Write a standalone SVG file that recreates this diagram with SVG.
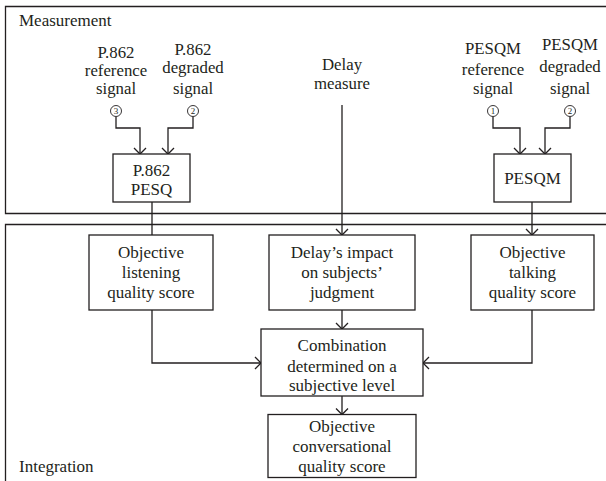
<svg xmlns="http://www.w3.org/2000/svg" width="606" height="481" viewBox="0 0 606 481">
<defs>
<style>
text{font-family:"Liberation Serif","Times New Roman",serif;fill:#231f20;text-anchor:middle}
.lbl{font-size:16.8px}
.box{font-size:17px}
.frm{font-size:17px;text-anchor:start}
.num{font-size:9px}
rect{fill:#fff;stroke:#231f20;stroke-width:1.3}
.fr{fill:none;stroke:#231f20;stroke-width:1.3}
.cn{fill:none;stroke:#231f20;stroke-width:1.3}
circle{fill:#fff;stroke:#231f20;stroke-width:0.9}
</style>
<marker id="ah" markerUnits="userSpaceOnUse" markerWidth="14" markerHeight="14" refX="7" refY="7" orient="auto">
<polyline points="1,1 7,7 1,13" fill="none" stroke="#231f20" stroke-width="1.3"/>
</marker>
</defs>
<g id="frames">
<path class="fr" d="M610,6.5 H5.5 V213.5 H610"/>
<path class="fr" d="M610,224.5 H5.5 V490"/>
<text class="frm" x="19" y="25.5">Measurement</text>
<text class="frm" x="19" y="472">Integration</text>
</g>
<g id="connectors">
<path class="cn" d="M116,116.5 V128 H140 V154" marker-end="url(#ah)"/>
<path class="cn" d="M193,116.5 V128 H168 V154" marker-end="url(#ah)"/>
<path class="cn" d="M493,116.5 V128 H520 V154" marker-end="url(#ah)"/>
<path class="cn" d="M570,116.5 V128 H545 V154" marker-end="url(#ah)"/>
<path class="cn" d="M152,202 V235"/>
<path class="cn" d="M342,105 V235" marker-end="url(#ah)"/>
<path class="cn" d="M532,202 V235" marker-end="url(#ah)"/>
<path class="cn" d="M342,310 V329" marker-end="url(#ah)"/>
<path class="cn" d="M152,310 V363 H261" marker-end="url(#ah)"/>
<path class="cn" d="M532,310 V363 H423" marker-end="url(#ah)"/>
<path class="cn" d="M342,396 V414.5" marker-end="url(#ah)"/>
</g>
<g id="p862-ref">
<text class="lbl" x="116" y="57.5">P.862</text>
<text class="lbl" x="116" y="75.5">reference</text>
<text class="lbl" x="116" y="93.5">signal</text>
<circle cx="116" cy="111" r="5.5"/>
<text class="num" x="116" y="114.3">3</text>
</g>
<g id="p862-deg">
<text class="lbl" x="193" y="54.5">P.862</text>
<text class="lbl" x="193" y="73">degraded</text>
<text class="lbl" x="193" y="93.5">signal</text>
<circle cx="193" cy="111" r="5.5"/>
<text class="num" x="193" y="114.3">2</text>
</g>
<g id="delay-measure">
<text class="lbl" x="342" y="70">Delay</text>
<text class="lbl" x="342" y="89">measure</text>
</g>
<g id="pesqm-ref">
<text class="lbl" x="493" y="54">PESQM</text>
<text class="lbl" x="493" y="75">reference</text>
<text class="lbl" x="493" y="93.5">signal</text>
<circle cx="493" cy="111" r="5.5"/>
<text class="num" x="493" y="114.3">1</text>
</g>
<g id="pesqm-deg">
<text class="lbl" x="570" y="50">PESQM</text>
<text class="lbl" x="570" y="72">degraded</text>
<text class="lbl" x="570" y="93.5">signal</text>
<circle cx="570" cy="111" r="5.5"/>
<text class="num" x="570" y="114.3">2</text>
</g>
<g id="pesq">
<rect x="113" y="154" width="77" height="48"/>
<text class="box" x="151.5" y="176">P.862</text>
<text class="box" x="151.5" y="195">PESQ</text>
</g>
<g id="pesqm">
<rect x="494" y="154" width="77" height="48"/>
<text class="box" x="532.5" y="183.5">PESQM</text>
</g>
<g id="listening">
<rect x="89" y="235" width="124" height="75"/>
<text class="box" x="151" y="258">Objective</text>
<text class="box" x="151" y="278">listening</text>
<text class="box" x="151" y="298">quality score</text>
</g>
<g id="delay-impact">
<rect x="269" y="235" width="146" height="75"/>
<text class="box" x="342" y="258">Delay’s impact</text>
<text class="box" x="342" y="278">on subjects’</text>
<text class="box" x="342" y="298">judgment</text>
</g>
<g id="talking">
<rect x="471" y="235" width="123" height="75"/>
<text class="box" x="532.5" y="258">Objective</text>
<text class="box" x="532.5" y="278">talking</text>
<text class="box" x="532.5" y="298">quality score</text>
</g>
<g id="combination">
<rect x="261" y="329" width="162" height="67"/>
<text class="box" x="342" y="351">Combination</text>
<text class="box" x="342" y="371.5">determined on a</text>
<text class="box" x="342" y="391">subjective level</text>
</g>
<g id="conversational">
<rect x="268" y="414.5" width="148" height="63"/>
<text class="box" x="342" y="431.5">Objective</text>
<text class="box" x="342" y="452">conversational</text>
<text class="box" x="342" y="472">quality score</text>
</g>
</svg>
